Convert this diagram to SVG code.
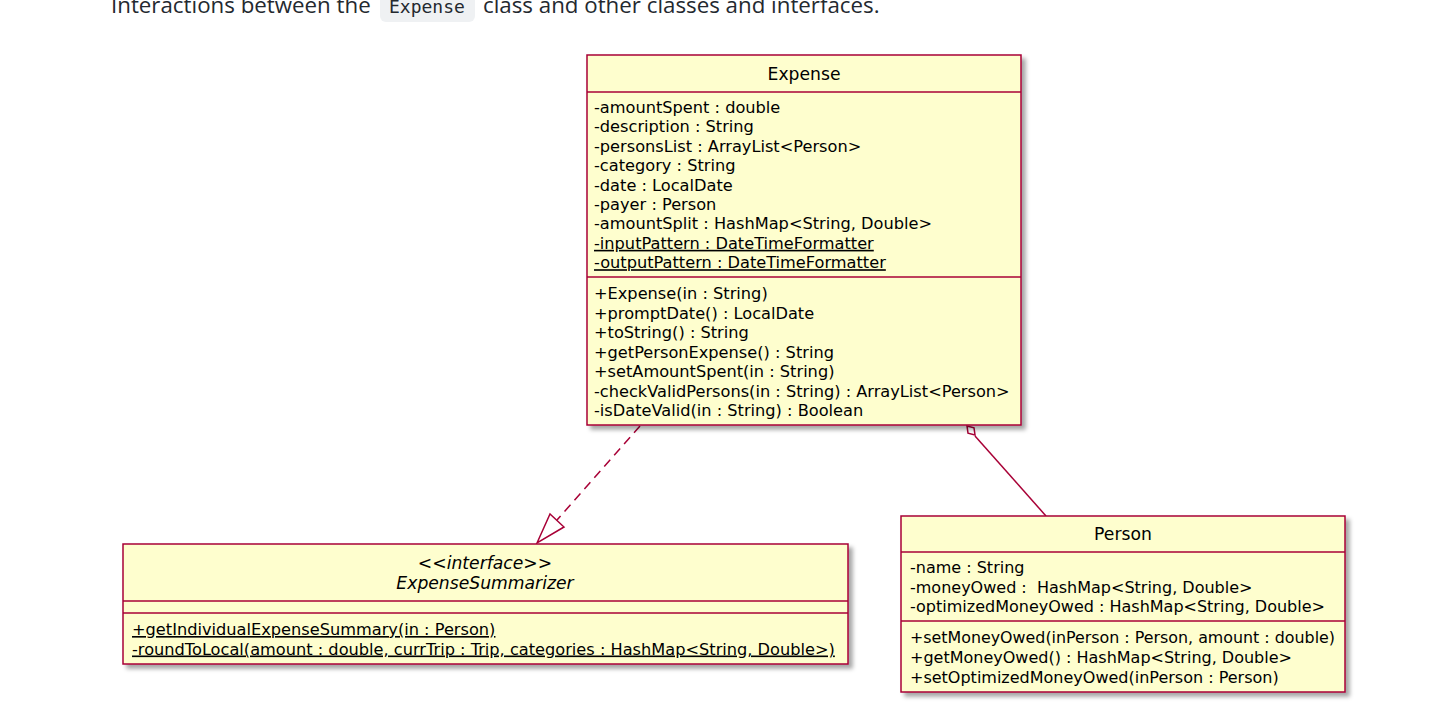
<svg xmlns="http://www.w3.org/2000/svg" width="1437" height="718" viewBox="0 0 1437 718">
<style>
.box{fill:#FEFECE;stroke:#A80036;stroke-width:1.5}
.sep{stroke:#A80036;stroke-width:1.5}
.t{font-family:"DejaVu Sans",sans-serif;font-size:16.2px;fill:#000;white-space:pre}
.p{font-size:16px}
.title{font-family:"DejaVu Sans",sans-serif;font-size:17.2px;fill:#000;text-anchor:middle}
.it{font-style:italic}
.u{text-decoration:underline}
.conn{stroke:#A80036;stroke-width:1.5;fill:none}
.intro{font-family:"Open Sans",sans-serif;font-size:22.3px;fill:#24292f}
.code{font-family:"DejaVu Sans Mono",monospace;font-size:18px;fill:#24292f}
</style>
<defs>
<filter id="sh" x="-5%" y="-5%" width="115%" height="120%">
<feDropShadow dx="4" dy="4" stdDeviation="2" flood-color="#000" flood-opacity="0.35"/>
</filter>
</defs>
<g id="intro">
<text class="intro" x="111" y="13">Interactions between the</text>
<rect x="380" y="-8" width="95" height="30" rx="6" fill="#eff1f3"/>
<text class="code" x="389" y="13">Expense</text>
<text class="intro" x="483" y="13">class and other classes and interfaces.</text>
</g>
<g id="connectors">
<path class="conn" d="M640,426 L557,520" stroke-dasharray="9,6"/>
<polygon class="conn" points="537,543 550,514 564,527" fill="#fff"/>
<path class="conn" d="M975,436 L1046,516"/>
<polygon class="conn" points="967,426 974,427.8 975,435 968,433.2" fill="#fff"/>
</g>
<g id="expense">
<rect class="box" x="587" y="55" width="434" height="370" filter="url(#sh)"/>
<line class="sep" x1="587" y1="92" x2="1021" y2="92"/>
<line class="sep" x1="587" y1="277" x2="1021" y2="277"/>
<text class="title" x="804" y="80">Expense</text>
<text class="t" x="594" y="113">-amountSpent : double</text>
<text class="t" x="594" y="132.4">-description : String</text>
<text class="t" x="594" y="151.8">-personsList : ArrayList&lt;Person&gt;</text>
<text class="t" x="594" y="171.2">-category : String</text>
<text class="t" x="594" y="190.6">-date : LocalDate</text>
<text class="t" x="594" y="210">-payer : Person</text>
<text class="t" x="594" y="229.4">-amountSplit : HashMap&lt;String, Double&gt;</text>
<text class="t u" x="594" y="248.8">-inputPattern : DateTimeFormatter</text>
<text class="t u" x="594" y="268.2">-outputPattern : DateTimeFormatter</text>
<text class="t" x="594" y="299">+Expense(in : String)</text>
<text class="t" x="594" y="318.5">+promptDate() : LocalDate</text>
<text class="t" x="594" y="338">+toString() : String</text>
<text class="t" x="594" y="357.5">+getPersonExpense() : String</text>
<text class="t" x="594" y="377">+setAmountSpent(in : String)</text>
<text class="t" x="594" y="396.5">-checkValidPersons(in : String) : ArrayList&lt;Person&gt;</text>
<text class="t" x="594" y="416">-isDateValid(in : String) : Boolean</text>
</g>
<g id="expenseSummarizer">
<rect class="box" x="123" y="544" width="725" height="120" filter="url(#sh)"/>
<line class="sep" x1="123" y1="601" x2="848" y2="601"/>
<line class="sep" x1="123" y1="613" x2="848" y2="613"/>
<text class="title it" x="485" y="569">&lt;&lt;interface&gt;&gt;</text>
<text class="title it" x="485" y="589">ExpenseSummarizer</text>
<text class="t u" x="132" y="635">+getIndividualExpenseSummary(in : Person)</text>
<text class="t u" x="132" y="654.5">-roundToLocal(amount : double, currTrip : Trip, categories : HashMap&lt;String, Double&gt;)</text>
</g>
<g id="person">
<rect class="box" x="901" y="516" width="444" height="176" filter="url(#sh)"/>
<line class="sep" x1="901" y1="552" x2="1345" y2="552"/>
<line class="sep" x1="901" y1="621" x2="1345" y2="621"/>
<text class="title" x="1123" y="540">Person</text>
<text class="t p" x="910" y="573">-name : String</text>
<text class="t p" x="910" y="592.5">-moneyOwed :  HashMap&lt;String, Double&gt;</text>
<text class="t p" x="910" y="612">-optimizedMoneyOwed : HashMap&lt;String, Double&gt;</text>
<text class="t p" x="910" y="643" textLength="425" lengthAdjust="spacingAndGlyphs">+setMoneyOwed(inPerson : Person, amount : double)</text>
<text class="t p" x="910" y="663">+getMoneyOwed() : HashMap&lt;String, Double&gt;</text>
<text class="t p" x="910" y="683">+setOptimizedMoneyOwed(inPerson : Person)</text>
</g>
</svg>
